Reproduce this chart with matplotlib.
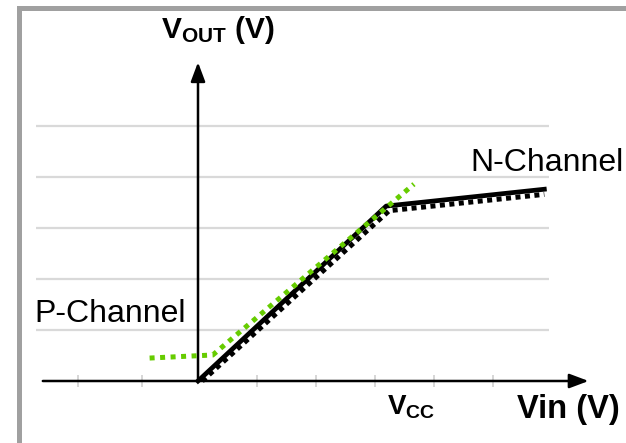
import matplotlib
matplotlib.use('Agg')
import matplotlib.pyplot as plt
from matplotlib.patches import Rectangle

plt.rcParams['font.family'] = ['Liberation Sans', 'DejaVu Sans']
plt.rcParams['mathtext.fontset'] = 'custom'
plt.rcParams['mathtext.rm'] = 'Liberation Sans'
plt.rcParams['mathtext.bf'] = 'Liberation Sans:bold'

# curves, in axis units (x: one tick step, y: one gridline step)
n_solid_x = [0, 3.19, 5.87]
n_solid_y = [0, 3.43, 3.76]
n_dot_x = [0.07, 3.24, 5.87]
n_dot_y = [0, 3.34, 3.66]
p_x = [-0.82, 0.25, 3.66]
p_y = [0.45, 0.51, 3.86]

grid_y = [1, 2, 3, 4, 5]
tick_x = [-2.03, -0.95, 1, 2, 3, 4, 5]

fig = plt.figure(figsize=(6.26, 4.43), dpi=100)
ax = fig.add_axes([0, 0, 1, 1])
ax.set_xlim(-198 / 59, 428 / 59)
ax.set_ylim(-62 / 51, 381 / 51)
ax.axis('off')

# grey frame on the left and top
fig.add_artist(Rectangle((17 / 626, 0), 5 / 626, 437 / 443,
                         transform=fig.transFigure, color='#a0a0a0', lw=0))
fig.add_artist(Rectangle((17 / 626, 432 / 443), 1, 5 / 443,
                         transform=fig.transFigure, color='#a0a0a0', lw=0))

# gridlines and ticks
ax.hlines(grid_y, -2.75, 5.95, color='#d9d9d9', lw=1.6, zorder=1)
ax.vlines(tick_x, -0.12, 0.12, color='#d0d0d0', lw=1.2, zorder=1)

# axes with arrows
arrow = dict(arrowstyle='-|>,head_length=0.4,head_width=0.15', lw=1.8,
             color='black', mutation_scale=29, shrinkA=0, shrinkB=0)
ax.annotate('', xy=(6.62, 0), xytext=(-2.63, 0), arrowprops=arrow, zorder=2)
ax.annotate('', xy=(0, 6.25), xytext=(0, 0), arrowprops=arrow, zorder=2)

# curves
ax.plot(n_dot_x, n_dot_y, color='black', lw=3.6, ls=(0, (1, 0.9)), zorder=3)
ax.plot(n_solid_x, n_solid_y, color='black', lw=3.4, zorder=4)
ax.plot(p_x, p_y, color='#66cc00', lw=3.6, ls=(0, (1, 1.1)), zorder=5)

# labels
ax.text(4.61, 4.12, 'N-Channel', fontsize=23, ha='left', va='baseline')
ax.text(-2.78, 1.16, 'P-Channel', fontsize=23, ha='left', va='baseline')
ax.text(3.21, -0.65, r'$\mathbf{V_{CC}}$', fontsize=20, ha='left', va='baseline')
ax.text(5.4, -0.73, 'Vin (V)', fontsize=23.5, fontweight='bold',
        ha='left', va='baseline')
ax.text(-0.63, 6.73, r'$\mathbf{V_{OUT}}$ (V)', fontsize=21.5, fontweight='bold',
        ha='left', va='baseline')

fig.savefig('out.png', dpi=100)
